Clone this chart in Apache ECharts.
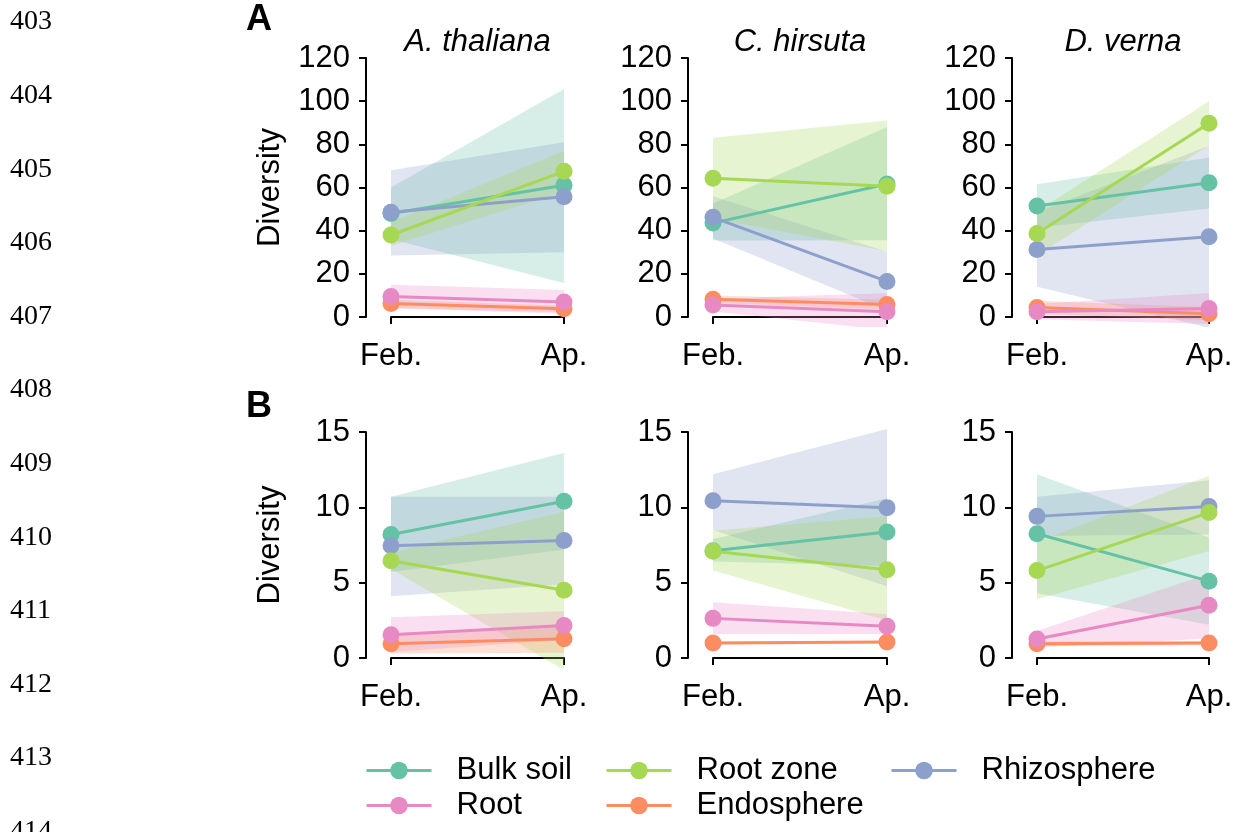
<!DOCTYPE html>
<html><head><meta charset="utf-8">
<script src="https://cdn.jsdelivr.net/npm/echarts@6/dist/echarts.min.js"></script>
<style>html,body{margin:0;padding:0;background:#fff}#c{width:1234px;height:832px}</style>
</head><body><div id="c"></div>
<script>
// ---------- DATA ----------
const months = ['Feb.', 'Ap.'];
const species = ['A. thaliana', 'C. hirsuta', 'D. verna'];
const groups = ['Bulk soil', 'Root zone', 'Rhizosphere', 'Root', 'Endosphere'];
const lineNumbers = ['403','404','405','406','407','408','409','410','411','412','413','414'];
const panelLetters = ['A', 'B'];
const yTitle = 'Diversity';
const ticksTop = [0, 120, 20];     // min, max, step
const ticksBottom = [0, 15, 5];

// Row A — per group [Feb, Ap]  (order: Bulk soil, Root zone, Rhizosphere, Root, Endosphere)
const topThalianaMean = [[48, 61], [38, 67.5], [48.5, 55.7], [9.5, 7], [6.3, 3.8]];
const topThalianaLow  = [[36, 15.8], [33, 58], [28.5, 30], [4, 1.5], [4.2, 2.2]];
const topThalianaHigh = [[60, 105.6], [44, 77], [68, 81], [15, 12.5], [8, 5.2]];

const topHirsutaMean = [[43.5, 61.6], [64.3, 60.6], [46.2, 16.5], [5.6, 2.4], [8.2, 5.8]];
const topHirsutaLow  = [[35.5, 35.6], [45.6, 30.5], [36.4, 3], [2.5, -6], [6.5, 3.5]];
const topHirsutaHigh = [[52.6, 88], [83, 91], [56, 30.2], [8.5, 11], [10, 8]];

const topVernaMean = [[51.4, 62.2], [38.7, 89.8], [31.3, 37.2], [2.4, 3.9], [4.4, 1.5]];
const topVernaLow  = [[41.3, 50.3], [28.5, 79.6], [14, -5], [-1, -3.3], [1.5, -1.5]];
const topVernaHigh = [[61.5, 73.9], [49, 100], [48.7, 79.3], [6, 11.1], [7.5, 4.5]];

// Row B
const bottomThalianaMean = [[8.2, 10.4], [6.45, 4.5], [7.45, 7.8], [1.55, 2.15], [0.95, 1.28]];
const bottomThalianaLow  = [[5.7, 7.2], [5.9, -0.8], [4.1, 4.9], [0.4, 1.2], [0.3, 0.35]];
const bottomThalianaHigh = [[10.7, 13.6], [7.0, 9.7], [10.7, 10.7], [2.7, 3.1], [1.6, 2.2]];

const bottomHirsutaMean = [[7.12, 8.36], [7.08, 5.85], [10.44, 9.98], [2.63, 2.1], [1.0, 1.06]];
const bottomHirsutaLow  = [[6.4, 6.1], [5.8, 2.5], [8.5, 4.76], [1.6, 1.6], [0.9, 0.95]];
const bottomHirsutaHigh = [[7.9, 10.6], [8.45, 9.4], [12.2, 15.2], [3.7, 2.9], [1.1, 1.15]];

const bottomVernaMean = [[8.25, 5.1], [5.8, 9.65], [9.4, 10.05], [1.26, 3.5], [0.95, 1.0]];
const bottomVernaLow  = [[4.3, 2.2], [3.9, 7.1], [8.1, 8.2], [0.7, 1.3], [0.8, 0.85]];
const bottomVernaHigh = [[12.2, 8.0], [7.7, 12.1], [10.7, 11.8], [1.8, 5.6], [1.1, 1.15]];

// ---------- STYLE / LAYOUT ----------
const palette = ['#66C2A5', '#A6D854', '#8DA0CB', '#E78AC3', '#FC8D62'];
const bandAlpha = 0.27;
const drawOrder = [0, 2, 1, 4, 3];
const FONT = '"Liberation Sans", Arial, Helvetica, sans-serif';
const FS = 31;
const colLeft = [391, 713, 1037];
const colWidth = [173, 174, 172];
const rowTop = [58, 432];
const rowHeight = [259, 226];

const panels = [
  {row: 0, col: 0, mean: topThalianaMean, low: topThalianaLow, high: topThalianaHigh},
  {row: 0, col: 1, mean: topHirsutaMean, low: topHirsutaLow, high: topHirsutaHigh},
  {row: 0, col: 2, mean: topVernaMean, low: topVernaLow, high: topVernaHigh},
  {row: 1, col: 0, mean: bottomThalianaMean, low: bottomThalianaLow, high: bottomThalianaHigh},
  {row: 1, col: 1, mean: bottomHirsutaMean, low: bottomHirsutaLow, high: bottomHirsutaHigh},
  {row: 1, col: 2, mean: bottomVernaMean, low: bottomVernaLow, high: bottomVernaHigh}
];

function hexA(hex, a) {
  const n = parseInt(hex.slice(1), 16);
  return 'rgba(' + (n >> 16) + ',' + ((n >> 8) & 255) + ',' + (n & 255) + ',' + a + ')';
}
function clipBelow(pts, limit) {
  const out = [];
  for (let i = 0; i < pts.length; i++) {
    const a = pts[i], b = pts[(i + 1) % pts.length];
    const ain = a[1] <= limit, bin = b[1] <= limit;
    if (ain) out.push(a);
    if (ain !== bin) {
      const t = (limit - a[1]) / (b[1] - a[1]);
      out.push([a[0] + t * (b[0] - a[0]), limit]);
    }
  }
  return out;
}

const grids = [], xAxes = [], yAxes = [], series = [];
panels.forEach((p, gi) => {
  grids.push({left: colLeft[p.col], width: colWidth[p.col], top: rowTop[p.row], height: rowHeight[p.row], outerBoundsMode: 'none'});
  const tk = p.row === 0 ? ticksTop : ticksBottom;
  xAxes.push({
    gridIndex: gi, type: 'category', data: months, boundaryGap: false, offset: 11,
    axisLine: {show: true, lineStyle: {color: '#000', width: 2}},
    axisTick: {show: true, length: 7, lineStyle: {color: '#000', width: 2}},
    axisLabel: {color: '#000', fontSize: FS, fontFamily: FONT, margin: 13, interval: 0},
    splitLine: {show: false}
  });
  yAxes.push({
    gridIndex: gi, type: 'value', min: tk[0], max: tk[1], interval: tk[2], offset: 25,
    axisLine: {show: true, lineStyle: {color: '#000', width: 2}},
    axisTick: {show: true, length: 7, lineStyle: {color: '#000', width: 2}},
    axisLabel: {color: '#000', fontSize: FS, fontFamily: FONT, margin: 16},
    splitLine: {show: false},
    name: p.col === 0 ? yTitle : '', nameLocation: 'middle', nameGap: 80,
    nameTextStyle: {color: '#000', fontSize: FS, fontFamily: FONT}
  });
  drawOrder.forEach((g) => {
    const col = palette[g];
    series.push({
      type: 'custom', name: groups[g] + ' band', xAxisIndex: gi, yAxisIndex: gi, z: 1, clip: false, silent: true,
      encode: {x: 0, y: [1, 2, 3, 4]},
      data: [[0, p.low[g][0], p.high[g][0], p.low[g][1], p.high[g][1]]],
      renderItem: function (params, api) {
        const cs = params.coordSys;
        const limit = cs.y + cs.height + 10;
        let pts = [api.coord([0, api.value(2)]), api.coord([1, api.value(4)]),
                   api.coord([1, api.value(3)]), api.coord([0, api.value(1)])];
        pts = clipBelow(pts, limit);
        return {type: 'polygon', shape: {points: pts}, style: {fill: hexA(col, bandAlpha), stroke: null}};
      }
    });
  });
  drawOrder.forEach((g, k) => {
    series.push({
      type: 'line', name: groups[g], xAxisIndex: gi, yAxisIndex: gi, z: 3 + k,
      data: p.mean[g], symbol: 'circle', symbolSize: 17, showSymbol: true,
      lineStyle: {color: palette[g], width: 3}, itemStyle: {color: palette[g]},
      emphasis: {disabled: true}, silent: true, clip: false
    });
  });
});

const legendPos = [[365, 755], [605, 755], [890, 755], [365, 790], [605, 790]];
const legendOrder = [0, 1, 2, 3, 4];
const legends = legendOrder.map((g, i) => ({
  data: [groups[g]], left: legendPos[i][0], top: legendPos[i][1], padding: 0,
  itemWidth: 65, itemHeight: 22, selectedMode: false,
  lineStyle: {width: 3},
  textStyle: {color: '#000', fontSize: FS, fontFamily: FONT, padding: [0, 0, 0, 20]}
}));

const graphics = [];
lineNumbers.forEach((t, i) => {
  graphics.push({type: 'text', x: 10, y: 22 + i * 73.6,
    style: {text: t, font: '28px "Liberation Serif", "Times New Roman", serif', fill: '#000', textVerticalAlign: 'middle', textAlign: 'left'}});
});
species.forEach((s, i) => {
  graphics.push({type: 'text', x: colLeft[i] + colWidth[i] / 2, y: 42,
    style: {text: s, font: 'italic ' + FS + 'px ' + FONT, fill: '#000', textAlign: 'center', textVerticalAlign: 'middle'}});
});
panelLetters.forEach((t, i) => {
  graphics.push({type: 'text', x: 246, y: i === 0 ? 20 : 407,
    style: {text: t, font: 'bold 36px ' + FONT, fill: '#000', textAlign: 'left', textVerticalAlign: 'middle'}});
});

const chart = echarts.init(document.getElementById('c'), null, {renderer: 'canvas'});
chart.setOption({
  animation: false, backgroundColor: '#fff',
  grid: grids, xAxis: xAxes, yAxis: yAxes, series: series,
  legend: legends, graphic: graphics
});
</script></body></html>
